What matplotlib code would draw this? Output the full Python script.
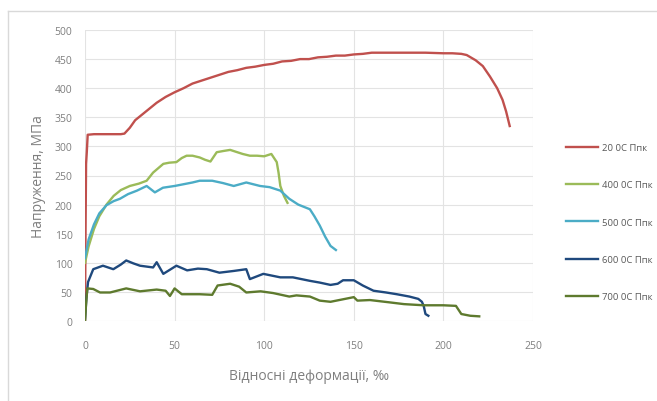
import matplotlib
matplotlib.use("Agg")
import matplotlib.pyplot as plt
from matplotlib.lines import Line2D

plt.rcParams['font.family'] = ['Open Sans', 'DejaVu Sans']

# 20 0C
x20 = [0, 0.3, 0.6, 1.0, 1.5, 5, 10, 15, 20, 22, 25, 28, 32, 36, 40, 45, 50, 55, 60, 65, 70, 75, 80, 85, 90,
       95, 100, 105, 110, 115, 120, 125, 130, 135, 140, 145, 150, 155, 160, 170, 180, 190, 200, 205, 210, 213,
       218, 222, 226, 230, 233, 235, 237]
y20 = [0, 150, 270, 290, 320, 321, 321, 321, 321, 322, 332, 345, 355, 365, 375, 385, 393, 400, 408, 413, 418,
       423, 428, 431, 435, 437, 440, 442, 446, 447, 450, 450, 453, 454, 456, 456, 458, 459, 461, 461, 461, 461,
       460, 460, 459, 457, 448, 438, 420, 400, 380, 360, 335]

# 400 0C
x400 = [0, 2, 5, 8, 12, 16, 20, 25, 30, 34.4, 38, 43.7, 47, 51, 54, 56.7, 60, 64, 67, 70, 73.5, 77, 81, 84,
        88, 92, 96, 100, 104, 107, 108, 109, 111, 113]
y400 = [100, 128, 158, 180, 200, 215, 225, 232, 236, 241, 255, 270, 272, 273, 280, 284, 284, 281, 277, 274,
        290, 292, 294, 291, 287, 284, 284, 283, 287, 273, 255, 232, 215, 203]

# 500 0C
x500 = [0, 2, 5, 8, 12, 16, 19.5, 24, 29, 34.4, 39, 43.5, 50, 55, 60, 64, 71, 77, 83, 90, 97.7, 103, 109,
        114, 119, 125.5, 128, 131, 134, 137, 140]
y500 = [108, 140, 166, 185, 199, 206, 210, 218, 224, 232, 221, 229, 232, 235, 238, 241, 241, 237, 232, 238,
        232, 230, 224, 210, 200, 192, 180, 164, 145, 129, 122]

# 600 0C
x600 = [0, 0.8, 1.7, 4.6, 10, 15.8, 20, 23, 27, 30.7, 38, 40, 43.7, 51, 57, 63, 68, 75, 83, 90, 92, 99.5,
        109, 116, 125.5, 131, 137, 141, 144, 150, 155, 161, 168, 174, 181, 186, 188, 189, 190, 191.6]
y600 = [3, 40, 67, 89, 95, 89, 97, 104, 99, 95, 92, 101, 81, 95, 87, 90, 89, 83, 86, 89, 72, 81, 75, 75, 69,
        66, 62, 64, 70, 70, 61, 52, 49, 46, 42, 38, 33, 26, 12, 9]

# 700 0C
x700 = [0, 0.6, 1.3, 4.6, 8.4, 14, 23, 30.7, 40, 45, 47.4, 50, 54, 64, 71, 74, 81, 86, 90, 98, 105, 114, 118,
        125.5, 131, 137, 150, 152, 159, 170, 178, 189, 200, 207, 210, 215, 220]
y700 = [0, 30, 56, 55, 49, 49, 56, 51, 54, 52, 43, 56, 46, 46, 45, 61, 64, 59, 49, 51, 48, 42, 44, 42, 35, 33,
        41, 35, 36, 32, 29, 27, 27, 26, 12, 9, 8]

labels = ["20 0С Ппк", "400 0С Ппк", "500 0С Ппк", "600 0С Ппк", "700 0С Ппк"]
colors = ["#C0504D", "#9BBB59", "#4BACC6", "#1F497D", "#5E7A2E"]

fig = plt.figure(figsize=(6.57, 4.02), dpi=100)
ax = fig.add_axes([85 / 657, 1 - 322 / 402, 448 / 657, 291 / 402])

series = [(x20, y20), (x400, y400), (x500, y500), (x600, y600), (x700, y700)]
for (xs, ys), lab, c in zip(series, labels, colors):
    ax.plot(xs, ys, color=c, lw=1.7, label=lab)

ax.set_xlim(0, 250)
ax.set_ylim(0, 500)
ax.set_xticks(range(0, 251, 50))
ax.set_yticks(range(0, 501, 50))
ax.grid(color="#e3e3e3", lw=0.8)
ax.set_axisbelow(True)
for s in ax.spines.values():
    s.set_visible(False)
ax.tick_params(length=0, labelsize=7.5, colors="#7f7f7f")
ax.tick_params(axis="x", pad=14)
ax.tick_params(axis="y", pad=9)

ax.set_xlabel("Відносні деформації, ‰", fontsize=10, color="#7f7f7f", labelpad=12)
ax.set_ylabel("Напруження, МПа", fontsize=10, color="#7f7f7f", labelpad=6)

fig.legend(loc="center left", bbox_to_anchor=(0.848, 0.445), frameon=False, fontsize=6.8,
           labelspacing=3.0, handlelength=3.4, handletextpad=0.4, labelcolor="#595959")

# outer chart frame
fig.add_artist(Line2D([8 / 657, 8 / 657], [0, 1 - 12 / 402], color="#d9d9d9", lw=1, transform=fig.transFigure))
fig.add_artist(Line2D([8 / 657, 1], [1 - 12 / 402, 1 - 12 / 402], color="#d9d9d9", lw=1, transform=fig.transFigure))

fig.savefig("out.png", dpi=100)
